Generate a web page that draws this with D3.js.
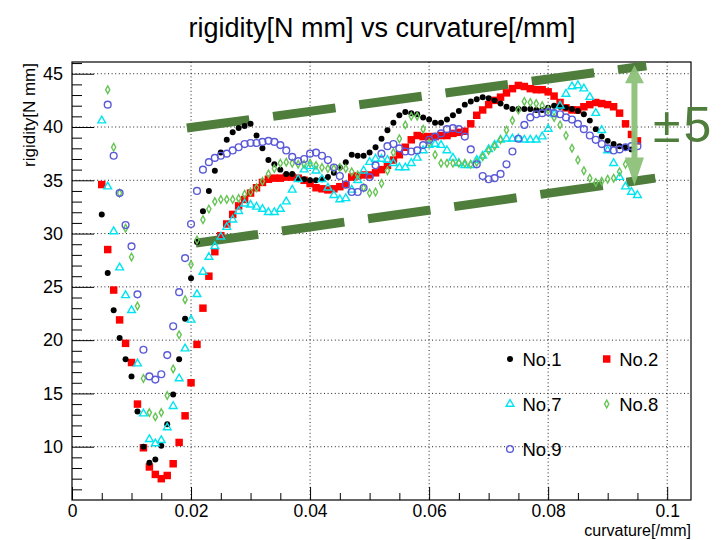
<!DOCTYPE html>
<html>
<head>
<meta charset="utf-8">
<script src="https://cdn.jsdelivr.net/npm/d3@7"></script>
<style>
  body { margin: 0; background: #fff; }
  svg { display: block; font-family: "Liberation Sans", Arial, Helvetica, sans-serif; }
</style>
</head>
<body>
<div id="chart"></div>
<script>
// curvature [/mm], one sample every 0.001
const curvature = [
  0.005, 0.006, 0.007, 0.008, 0.009, 0.010, 0.011, 0.012, 0.013, 0.014,
  0.015, 0.016, 0.017, 0.018, 0.019, 0.020, 0.021, 0.022, 0.023, 0.024,
  0.025, 0.026, 0.027, 0.028, 0.029, 0.030, 0.031, 0.032, 0.033, 0.034,
  0.035, 0.036, 0.037, 0.038, 0.039, 0.040, 0.041, 0.042, 0.043, 0.044,
  0.045, 0.046, 0.047, 0.048, 0.049, 0.050, 0.051, 0.052, 0.053, 0.054,
  0.055, 0.056, 0.057, 0.058, 0.059, 0.060, 0.061, 0.062, 0.063, 0.064,
  0.065, 0.066, 0.067, 0.068, 0.069, 0.070, 0.071, 0.072, 0.073, 0.074,
  0.075, 0.076, 0.077, 0.078, 0.079, 0.080, 0.081, 0.082, 0.083, 0.084,
  0.085, 0.086, 0.087, 0.088, 0.089, 0.090, 0.091, 0.092, 0.093, 0.094,
  0.095
];

// rigidity [N mm] per sample (null = no point)
const no1 = [
  31.8, 26.3, 22.8, 20.2, 18.2, 16.6, 13.3, 10.0, 8.5, 8.8,
  10.1, 12.1, 14.9, 18.2, 22.0, 25.8, 29.2, 32.1, 34.0, 35.9,
  37.6, 38.8, 39.5, 39.9, 40.1, 40.3, 39.2, 38.0, 36.9, 36.5,
  36.0, 35.6, 35.6, 35.1, 35.1, 35.0, 35.0, 35.1, 35.3, 35.7,
  36.2, 36.7, 37.4, 37.3, 37.3, 37.6, 38.1, 38.9, 39.7, 40.4,
  41.1, 41.4, 41.3, 41.2, 40.9, 40.7, 40.4, 40.4, 40.7, 41.1,
  41.5, 42.1, 42.4, 42.6, 42.8, 42.7, 42.5, 42.2, 41.9, 41.7,
  41.7, 41.7, 41.7, 41.6, 41.6, 41.8, 42.0, 41.9, 41.8, 41.7,
  41.5, 41.2, 40.6, 39.8, 39.1, 38.7, 38.4, 38.2, 38.1, 37.9,
  null
];
const no2 = [
  34.6, 28.5, 24.7, 21.9, 19.7, 17.9, 14.0, 9.9, 8.1, 7.4,
  7.0, 7.3, 8.4, 10.4, 12.9, 16.0, 19.6, 23.0, 26.0, 28.3,
  29.8, 30.9, 31.8, 32.6, 33.2, 33.8, 34.3, 34.8, 35.1, 35.2,
  35.2, 35.3, 35.3, 35.2, 35.0, 34.7, 34.3, 34.2, 34.1, 34.2,
  34.4, 34.6, 35.3, 35.4, 35.5, 35.5, 35.7, 36.0, 36.4, 36.9,
  37.4, 38.1, 38.8, 39.2, 39.1, 39.1, 39.1, 39.2, 39.2, 39.4,
  39.5, 39.6, 40.3, 41.1, 41.6, 42.1, 42.5, 42.8, 43.2, 43.6,
  43.9, 43.8, 43.6, 43.5, 43.5, 43.3, 42.9, 42.3, 41.8, 41.6,
  41.6, 41.9, 42.1, 42.3, 42.2, 42.1, 41.9, 41.3, 40.3, 39.3,
  38.7
];
const no7 = [
  40.6, 34.4, 30.2, 26.8, 24.2, 22.8, 17.8, 13.1, 10.7, 10.3,
  10.6, 11.8, 13.8, 16.4, 19.2, 21.9, 24.3, 26.4, 27.8, 28.8,
  29.7, 30.6, 31.3, 32.1, 32.8, 32.7, 32.5, 32.3, 32.0, 32.0,
  32.3, 33.0, 34.1, 35.1, 36.0, 36.3, 35.9, 35.1, 34.3, 33.6,
  33.2, 33.3, 34.1, 35.0, 35.9, 36.7, 37.0, 37.0, 36.9, 36.6,
  36.2, 36.2, 36.6, 37.1, 37.8, 38.3, 38.4, 38.3, 37.8, 37.1,
  36.6, 36.4, 36.4, 36.9, 37.3, 37.9, 38.3, 38.8, 38.9, 38.9,
  38.9, 38.8, 38.8, 38.8, 39.1, 39.8, 41.2, 42.0, 43.1, 43.8,
  43.9, 43.6, 42.8, 41.3, 39.7, 37.8, 36.6, 35.3, 34.4, 33.9,
  33.6
];
const no8 = [
  null, 43.5, 38.1, 33.8, 30.5, 27.8, 23.2, 16.4, 13.2, 12.8,
  13.2, 14.8, 17.3, 20.5, 23.8, 27.1, 29.4, 31.3, 32.3, 33.0,
  33.2, 33.2, 33.2, 33.3, 33.7, 33.9, 34.3, 34.9, 35.6, 36.1,
  36.6, 36.7, 36.6, 36.5, 36.5, 36.6, 36.4, 36.2, 36.1, 36.1,
  36.2, 36.1, 35.8, 35.5, 34.3, 33.8, 33.9, 34.7, 35.9, 37.6,
  38.9, 40.2, 41.0, 41.0, 39.8, 38.5, 37.4, 36.6, 36.6, 36.6,
  36.6, 36.6, 36.5, 36.7, 37.2, 37.8, 38.2, 38.8, 39.7, 40.6,
  41.6, 42.4, 42.3, 42.2, 42.0, 41.6, 40.9, 40.2, 39.2, 38.0,
  36.9, 35.9, 35.2, 34.8, 34.9, 35.1, 35.2, 35.8, 36.5, null,
  null
];
const no9 = [
  null, 42.1, 37.3, 33.8, 30.8, 28.8, 24.3, 19.1, 16.6, 16.3,
  16.8, 18.6, 21.3, 24.5, 27.7, 30.9, 34.0, 36.0, 36.7, 37.1,
  37.3, 37.5, 37.8, 38.1, 38.4, 38.5, 38.5, 38.6, 38.7, 38.6,
  38.3, 37.8, 37.2, 36.8, 37.0, 37.5, 37.6, 37.3, 36.9, 36.2,
  35.4, 34.6, 33.9, 33.9, 34.3, 35.3, 36.4, 37.5, 38.2, 38.4,
  38.0, 37.7, 37.7, 37.8, 38.3, 38.8, 39.1, 39.4, 39.8, 39.9,
  39.8, 39.1, 37.9, 36.5, 35.4, 35.1, 35.2, 35.6, 36.5, 37.7,
  38.9, 40.2, 40.9, 41.2, 41.3, 41.4, 41.3, 41.2, 40.9, 40.7,
  40.3, 39.8, 39.2, 38.8, 38.4, 38.0, 37.8, 37.9, 38.1, 38.2,
  38.2
];

const xTicks = [0, 0.02, 0.04, 0.06, 0.08, 0.1];
const xMinor = [0.005, 0.01, 0.015, 0.025, 0.03, 0.035, 0.045, 0.05, 0.055,
                0.065, 0.07, 0.075, 0.085, 0.09, 0.095];
const yTicks = [10, 15, 20, 25, 30, 35, 40, 45];
const yMinor = [6, 7, 8, 9, 11, 12, 13, 14, 16, 17, 18, 19, 21, 22, 23, 24,
                26, 27, 28, 29, 31, 32, 33, 34, 36, 37, 38, 39, 41, 42, 43, 44, 46];

// hand-drawn ±5 band (data coordinates)
const bandLines = [
  [0.0193, 39.9, 0.0965, 45.75],
  [0.0208, 29.1, 0.0980, 35.2]
];
const arrowX = 0.0945, arrowTop = 45.8, arrowBottom = 34.5;

const width = 724, height = 540;
const margin = { top: 62, right: 33, bottom: 40, left: 72 };
const w = width - margin.left - margin.right;
const h = height - margin.top - margin.bottom;

const svg = d3.select("#chart").append("svg")
    .attr("width", width)
    .attr("height", height);

const g = svg.append("g")
    .attr("transform", `translate(${margin.left},${margin.top})`);

const x = d3.scaleLinear().domain([0, 0.104]).range([0, w]);
const y = d3.scaleLinear().domain([5, 46.1]).range([h, 0]);

// dotted grid
g.append("g").selectAll("line")
    .data(yTicks)
  .join("line")
    .attr("x1", 0).attr("x2", w)
    .attr("y1", d => y(d)).attr("y2", d => y(d))
    .attr("stroke", "#222").attr("stroke-dasharray", "1,2.6");
g.append("g").selectAll("line")
    .data(xTicks.filter(d => d > 0))
  .join("line")
    .attr("x1", d => x(d)).attr("x2", d => x(d))
    .attr("y1", 0).attr("y2", h)
    .attr("stroke", "#222").attr("stroke-dasharray", "1,2.6");

// axes, ROOT style ticks pointing inward
function styleAxis(sel, size) {
  sel.select(".domain").remove();
  sel.attr("font-family", null).attr("font-size", size);
  sel.selectAll("line").attr("stroke", "#000");
  sel.selectAll("text").attr("fill", "#000");
}

g.append("g")
    .call(d3.axisLeft(y).tickValues(yTicks).tickSizeInner(-22).tickSizeOuter(0).tickPadding(9))
    .call(styleAxis, 18);
g.append("g")
    .call(d3.axisLeft(y).tickValues(yMinor).tickSizeInner(-10).tickSizeOuter(0).tickFormat(""))
    .call(styleAxis, 18);
g.append("g")
    .attr("transform", `translate(0,${h})`)
    .call(d3.axisBottom(x).tickValues(xTicks).tickSizeInner(-13).tickSizeOuter(0).tickPadding(5)
        .tickFormat(d3.format("~g")))
    .call(styleAxis, 17.5);
g.append("g")
    .attr("transform", `translate(0,${h})`)
    .call(d3.axisBottom(x).tickValues(xMinor).tickSizeInner(-7).tickSizeOuter(0).tickFormat(""))
    .call(styleAxis, 17.5);

// frame
g.append("rect")
    .attr("width", w).attr("height", h)
    .attr("fill", "none").attr("stroke", "#000").attr("stroke-width", 1.2);

// green dashed band lines
g.append("g").selectAll("line")
    .data(bandLines)
  .join("line")
    .attr("x1", d => x(d[0])).attr("y1", d => y(d[1]))
    .attr("x2", d => x(d[2])).attr("y2", d => y(d[3]))
    .attr("stroke", "#4e7d3c").attr("stroke-width", 9)
    .attr("stroke-dasharray", "63,24");

// markers
const markers = {
  "No.1": { color: "#000000", fill: true,  d: d3.symbol(d3.symbolCircle, 28)() },
  "No.2": { color: "#ff0000", fill: true,  d: d3.symbol(d3.symbolSquare, 56)() },
  "No.7": { color: "#00e4f0", fill: false, d: d3.symbol(d3.symbolTriangle, 26)() },
  "No.8": { color: "#66c455", fill: false, d: "M0,-3.8L2.1,0L0,3.8L-2.1,0Z" },
  "No.9": { color: "#5a5ad8", fill: false, d: d3.symbol(d3.symbolCircle, 36)() }
};

function drawMarker(sel, name) {
  const m = markers[name];
  sel.attr("d", m.d)
    .attr("fill", m.fill ? m.color : "none")
    .attr("stroke", m.fill ? "none" : m.color)
    .attr("stroke-width", 1.4);
}

const series = [
  { name: "No.2", values: no2 },
  { name: "No.1", values: no1 },
  { name: "No.7", values: no7 },
  { name: "No.8", values: no8 },
  { name: "No.9", values: no9 }
];

series.forEach(s => {
  const pts = curvature.map((c, i) => ({ x: c, v: s.values[i] })).filter(d => d.v != null);
  g.append("g").selectAll("path")
      .data(pts)
    .join("path")
      .call(drawMarker, s.name)
      .attr("transform", d => `translate(${x(d.x)},${y(d.v)})`);
});

// double arrow
const ax = x(arrowX), ay1 = y(arrowTop), ay2 = y(arrowBottom);
const arrow = g.append("g").attr("fill", "#8dc17a").attr("opacity", 0.95);
arrow.append("rect")
    .attr("x", ax - 3).attr("y", ay1 + 15)
    .attr("width", 6).attr("height", ay2 - ay1 - 40);
arrow.append("path")
    .attr("d", `M${ax},${ay1}L${ax + 9.5},${ay1 + 18}L${ax - 9.5},${ay1 + 18}Z`);
arrow.append("path")
    .attr("d", `M${ax},${ay2}L${ax + 9.5},${ay2 - 28}L${ax - 9.5},${ay2 - 28}Z`);

svg.append("text")
    .attr("x", 653).attr("y", 142)
    .attr("font-size", 50)
    .attr("letter-spacing", 3)
    .attr("fill", "#4e7d3c")
    .text("±5");

// legend
const legendNames = ["No.1", "No.2", "No.7", "No.8", "No.9"];
const legend = svg.append("g").attr("font-size", 18.5);
legendNames.forEach((name, i) => {
  const lx = 510 + (i % 2) * 96.7;
  const ly = 359 + Math.floor(i / 2) * 45;
  legend.append("path")
      .call(drawMarker, name)
      .attr("transform", `translate(${lx},${ly})`);
  legend.append("text")
      .attr("x", lx + 12.5).attr("y", ly)
      .attr("dy", "0.36em")
      .text(name);
});

// titles
svg.append("text")
    .attr("x", 382).attr("y", 37)
    .attr("text-anchor", "middle")
    .attr("font-size", 27)
    .text("rigidity[N mm] vs curvature[/mm]");

svg.append("text")
    .attr("transform", "translate(35,63) rotate(-90)")
    .attr("text-anchor", "end")
    .attr("font-size", 17)
    .text("rigidity[N mm]");

svg.append("text")
    .attr("x", 691).attr("y", 536)
    .attr("text-anchor", "end")
    .attr("font-size", 16)
    .text("curvature[/mm]");
</script>
</body>
</html>
